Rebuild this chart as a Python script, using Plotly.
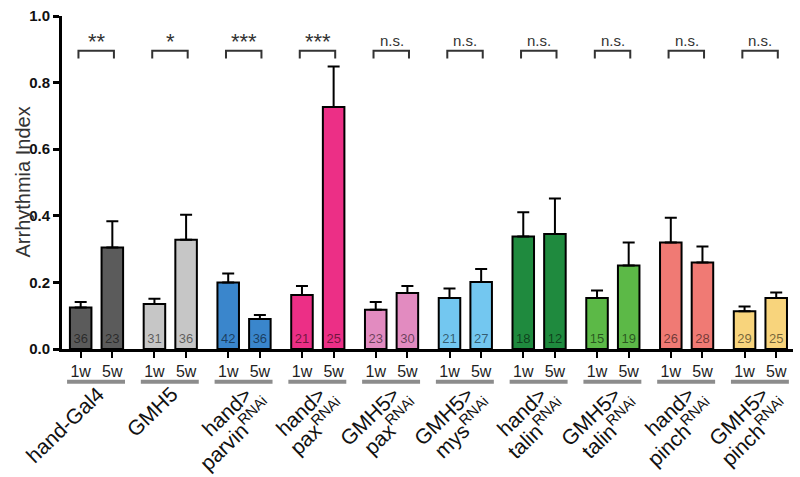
import plotly.graph_objects as go

# ---- data ----
label_line1 = ["hand-Gal4", "GMH5", "hand&gt;", "hand&gt;", "GMH5&gt;", "GMH5&gt;",
               "hand&gt;", "GMH5&gt;", "hand&gt;", "GMH5&gt;"]
label_line2 = ["", "", "parvin<sup>RNAi</sup>", "pax<sup>RNAi</sup>", "pax<sup>RNAi</sup>",
               "mys<sup>RNAi</sup>", "talin<sup>RNAi</sup>", "talin<sup>RNAi</sup>",
               "pinch<sup>RNAi</sup>", "pinch<sup>RNAi</sup>"]
ages = ["1w", "5w"]
mean_1w = [0.125, 0.135, 0.200, 0.162, 0.118, 0.153, 0.338, 0.153, 0.320, 0.113]
mean_5w = [0.305, 0.328, 0.090, 0.727, 0.168, 0.201, 0.345, 0.251, 0.260, 0.153]
sem_1w = [0.016, 0.016, 0.027, 0.027, 0.023, 0.029, 0.073, 0.023, 0.074, 0.015]
sem_5w = [0.079, 0.075, 0.012, 0.121, 0.021, 0.039, 0.107, 0.069, 0.048, 0.017]
n_1w = [36, 31, 42, 21, 23, 21, 18, 15, 26, 29]
n_5w = [23, 36, 36, 25, 30, 27, 12, 19, 28, 25]
significance = ["**", "*", "***", "***", "n.s.", "n.s.", "n.s.", "n.s.", "n.s.", "n.s."]
colors = ["#5b5b5b", "#c6c6c6", "#3a86cc", "#ec2f86", "#e28bc0", "#73c7f0",
          "#1f8a3e", "#5cb947", "#f07a74", "#f8d47c"]
y_ticks = [0.0, 0.2, 0.4, 0.6, 0.8, 1.0]

# ---- layout constants ----
PERIOD = 2.33
BAR_W = 0.68
FONT = "Liberation Sans, Arial, sans-serif"

x_pos, y_val, err, ns, cols, tick_text = [], [], [], [], [], []
for g in range(len(label_line1)):
    for k, (m, e, n) in enumerate([(mean_1w[g], sem_1w[g], n_1w[g]), (mean_5w[g], sem_5w[g], n_5w[g])]):
        x_pos.append(g * PERIOD + k)
        y_val.append(m)
        err.append(e)
        ns.append(str(n))
        cols.append(colors[g])
        tick_text.append(ages[k])

fig = go.Figure()
fig.add_trace(go.Bar(
    x=x_pos, y=y_val, width=BAR_W,
    marker=dict(color=cols, line=dict(color="black", width=2)),
    error_y=dict(type="data", array=err, arrayminus=[0] * len(err), symmetric=False,
                 color="black", thickness=2, width=6),
    text=ns, textposition="inside", insidetextanchor="start", textangle=0,
    constraintext="none",
    textfont=dict(family=FONT, size=13, color="rgba(0,0,0,0.55)"),
    showlegend=False, hoverinfo="skip",
))

shapes = []
annotations = []
for g in range(len(label_line1)):
    c1 = g * PERIOD
    c2 = g * PERIOD + 1
    # significance bracket
    shapes.append(dict(type="path", xref="x", yref="y",
                       path=f"M {c1-0.07},0.872 L {c1-0.07},0.896 L {c2+0.05},0.896 L {c2+0.05},0.872",
                       line=dict(color="#333333", width=2)))
    star = significance[g] != "n.s."
    annotations.append(dict(x=(c1 + c2) / 2, y=0.9, xref="x", yref="y", text=significance[g],
                            showarrow=False, yanchor="bottom",
                            yshift=-7 if star else -2,
                            font=dict(family=FONT, size=22 if star else 15, color="#333333")))
    # grey group underline
    shapes.append(dict(type="line", xref="x", yref="paper", x0=c1 - 0.43, x1=c2 + 0.40,
                       y0=-0.098, y1=-0.098, line=dict(color="#8c8c8c", width=4)))
    # group label, line 1
    annotations.append(dict(x=c2, y=-0.11, xref="x", yref="paper", text=label_line1[g],
                            showarrow=False, textangle=-44, xanchor="right", yanchor="top",
                            xshift=-1, yshift=6,
                            font=dict(family=FONT, size=21, color="#111111")))
    # group label, line 2
    if label_line2[g]:
        annotations.append(dict(x=c2, y=-0.11, xref="x", yref="paper", text=label_line2[g],
                                showarrow=False, textangle=-44, xanchor="right", yanchor="top",
                                xshift=20, yshift=-5,
                                font=dict(family=FONT, size=21, color="#111111")))

annotations.append(dict(x=0, y=0.5, xref="paper", yref="paper", text="Arrhythmia Index",
                        showarrow=False, textangle=-90, xanchor="center", yanchor="middle",
                        xshift=-40, font=dict(family=FONT, size=20, color="#333333")))

fig.update_layout(
    width=800, height=477,
    margin=dict(l=62, r=7, t=13, b=128),
    plot_bgcolor="white", paper_bgcolor="white",
    shapes=shapes, annotations=annotations,
    xaxis=dict(range=[-0.59, 9 * PERIOD + 1 + 0.53], tickmode="array", tickvals=x_pos,
               ticktext=tick_text, ticks="outside", ticklen=6, tickwidth=2, tickcolor="black",
               showline=True, linewidth=3, linecolor="black", showgrid=False, zeroline=False,
               tickfont=dict(family=FONT, size=16, color="#222222")),
    yaxis=dict(range=[0, 1], tickmode="array", tickvals=y_ticks,
               ticktext=[f"{v:.1f}" for v in y_ticks], ticks="outside", ticklen=6, tickwidth=2.5,
               tickcolor="black", showline=True, linewidth=3, linecolor="black",
               showgrid=False, zeroline=False,
               tickfont=dict(family=FONT, size=15, color="#111111", weight="bold")),
)

# remove the default page margin so the figure sits at the window origin
fig.write_html("out.html", config={"displayModeBar": False},
               post_script="document.body.style.margin='0';")
